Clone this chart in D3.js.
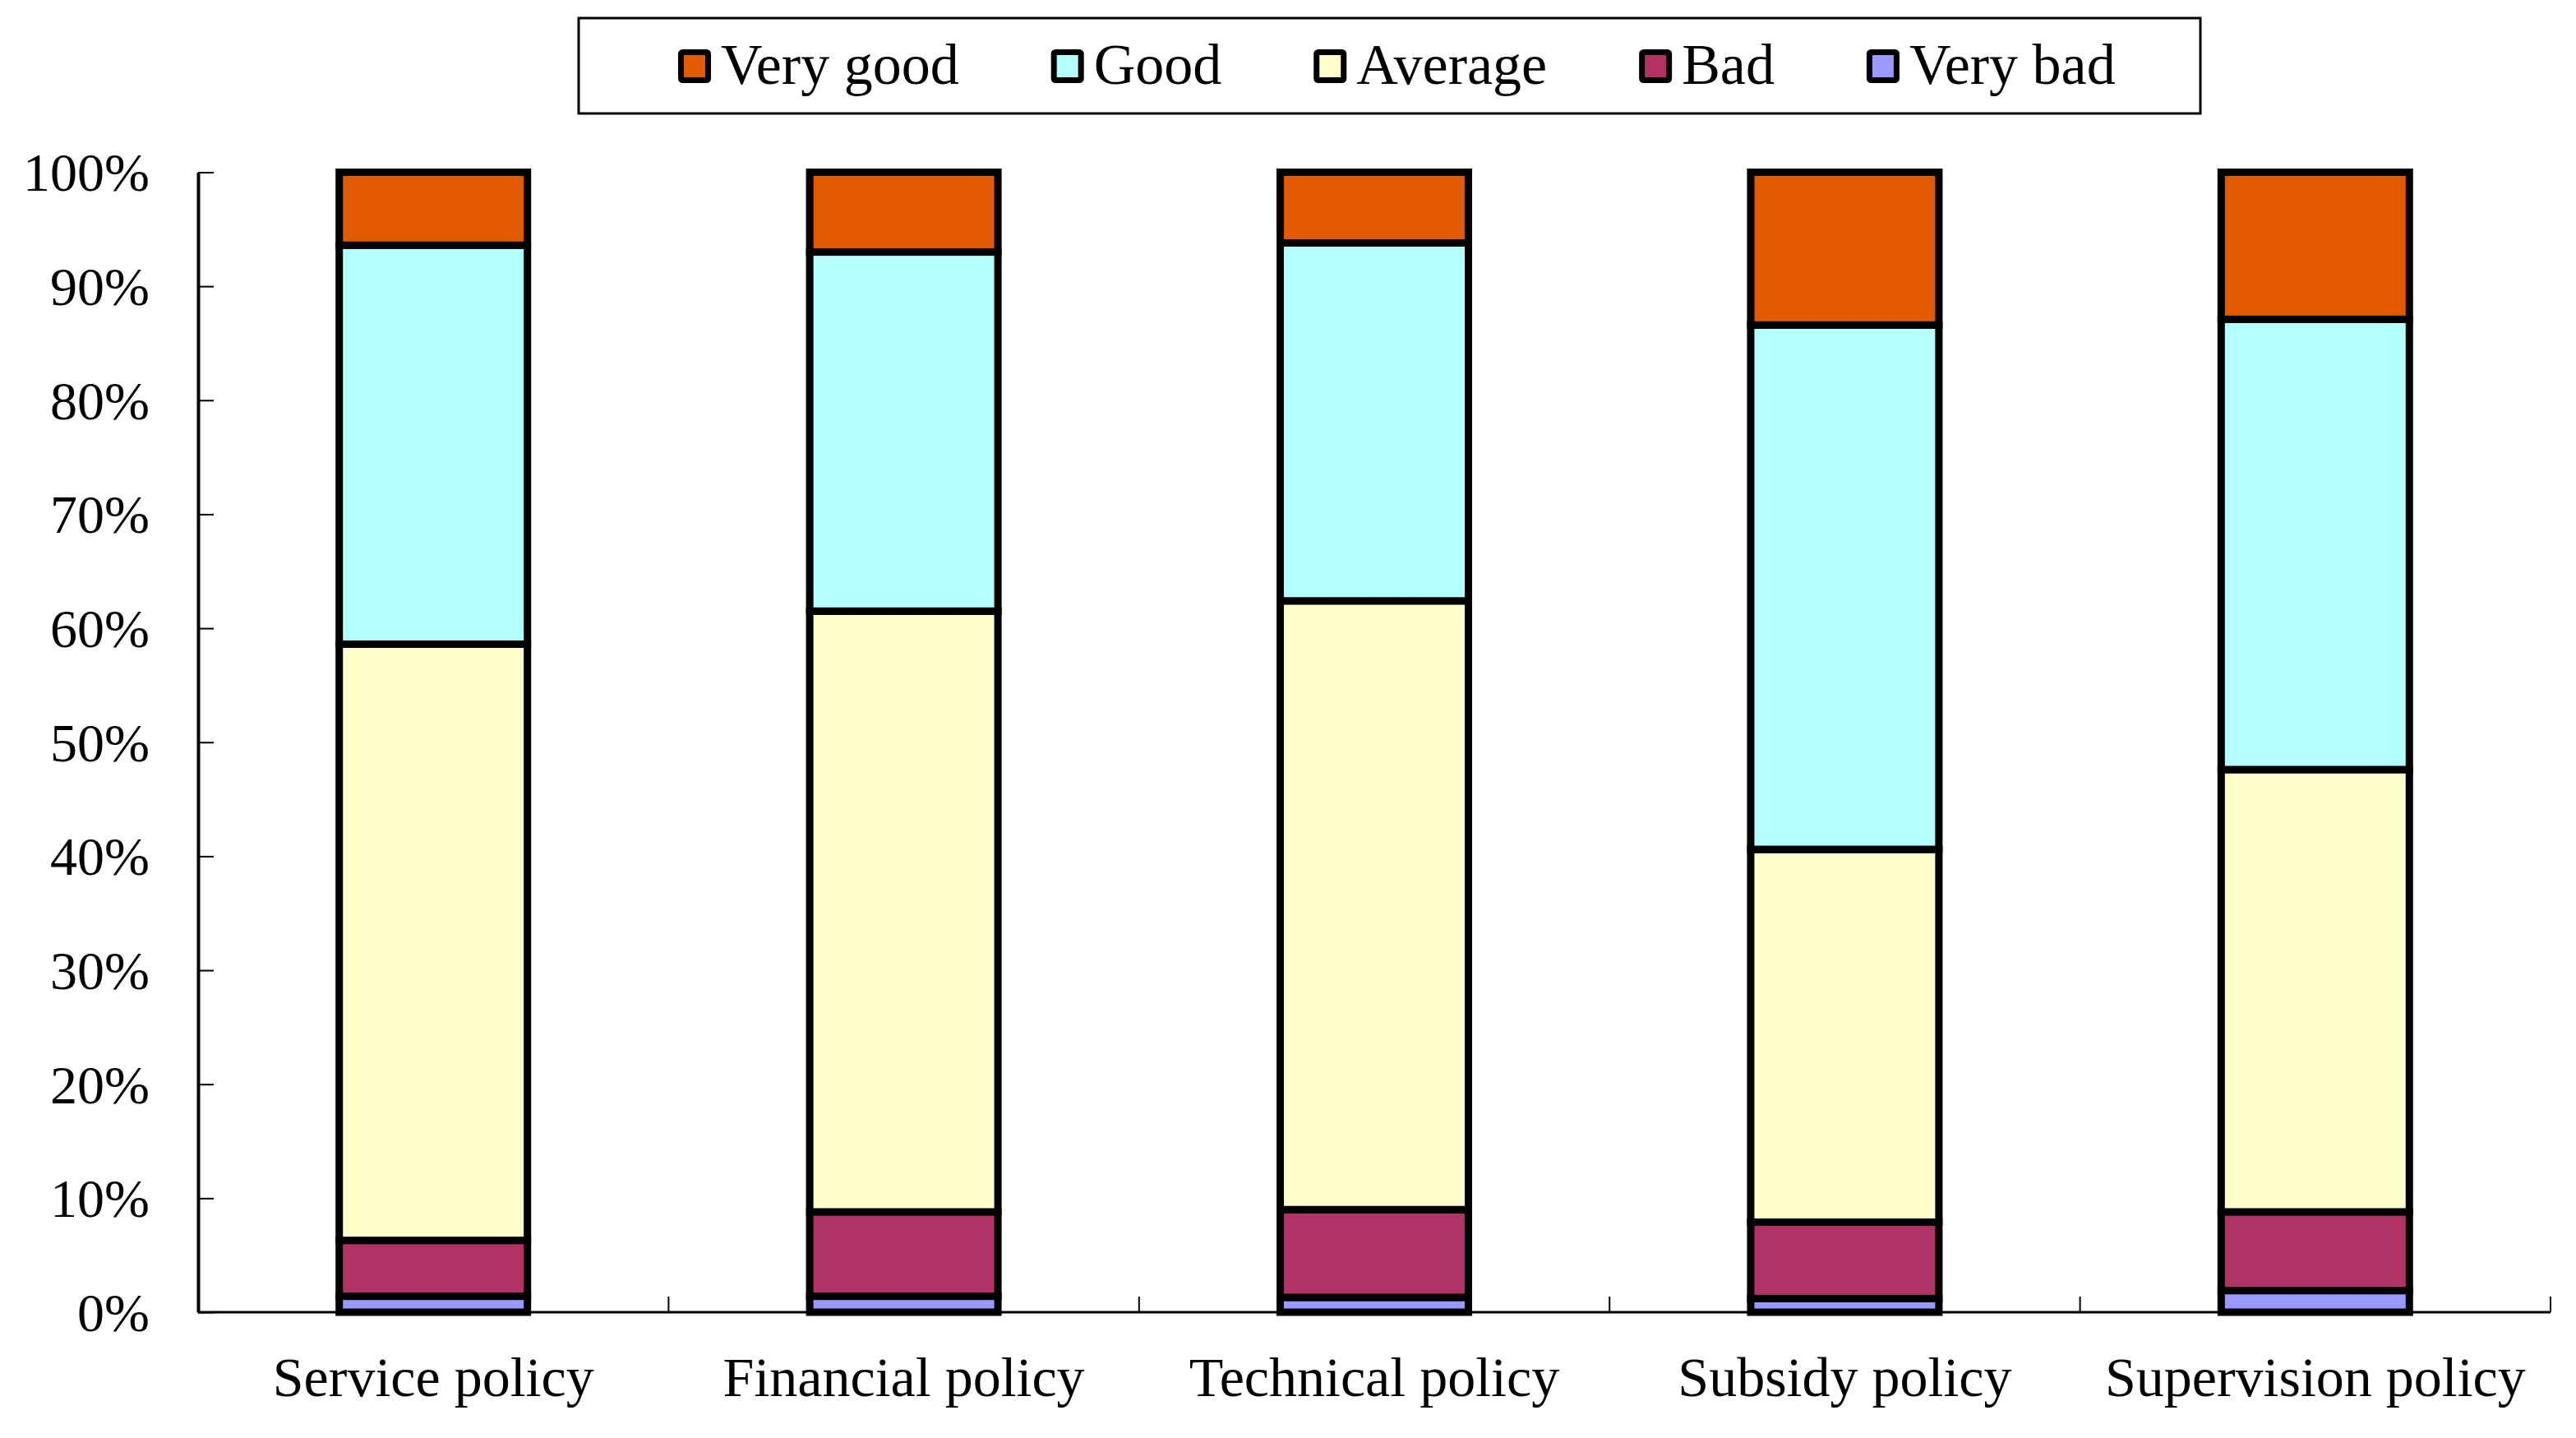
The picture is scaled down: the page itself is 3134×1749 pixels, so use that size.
<!DOCTYPE html>
<html>
<head>
<meta charset="utf-8">
<script src="https://cdn.jsdelivr.net/npm/d3@7"></script>
<style>
  body { margin: 0; background: #fff; }
  text { font-family: "Liberation Serif", "Times New Roman", serif; fill: #000; }
</style>
</head>
<body>
<svg id="chart" width="3134" height="1749"></svg>
<script>
// categories and ratings (bottom of the stack first)
var categories = ['Service policy', 'Financial policy', 'Technical policy', 'Subsidy policy', 'Supervision policy'];
var ratings = ['Very bad', 'Bad', 'Average', 'Good', 'Very good'];
var legendOrder = ['Very good', 'Good', 'Average', 'Bad', 'Very bad'];

// shares per rating, in %, one value per category
var veryBad  = [1.4, 1.4, 1.3, 1.2, 1.9];
var bad      = [4.9, 7.4, 7.7, 6.7, 6.9];
var average  = [52.3, 52.7, 53.4, 32.7, 38.8];
var good     = [35.0, 31.5, 31.4, 46.0, 39.5];
var veryGood = [6.4, 7.0, 6.2, 13.4, 12.9];

var yTicks = [0, 10, 20, 30, 40, 50, 60, 70, 80, 90, 100];

var colors = {
    'Very good': '#E15A00',
    'Good': '#B3FFFF',
    'Average': '#FFFFCC',
    'Bad': '#B13265',
    'Very bad': '#9999FF'
};

// build rows for d3.stack
var series = {'Very bad': veryBad, 'Bad': bad, 'Average': average, 'Good': good, 'Very good': veryGood};
var rows = categories.map(function(c, i) {
    var r = {category: c};
    ratings.forEach(function(k) { r[k] = series[k][i]; });
    return r;
});

var svg = d3.select('#chart');

// plot area
var plotLeft = 241, plotRight = 3103, plotTop = 209.5, plotBottom = 1596;

var x = d3.scaleBand()
    .domain(categories)
    .range([plotLeft, plotRight])
    .paddingInner(0.6)
    .paddingOuter(0.3);

var y = d3.scaleLinear()
    .domain([0, 100])
    .range([plotBottom, plotTop]);

var step = x.step();

// x axis: labels from the band scale, ticks on category boundaries
var xAxis = svg.append('g')
    .attr('transform', 'translate(0,' + plotBottom + ')')
    .call(d3.axisBottom(x).tickSize(0).tickPadding(54));
xAxis.select('.domain').remove();
xAxis.selectAll('text')
    .attr('font-size', 68)
    .attr('font-family', '"Liberation Serif", "Times New Roman", serif');

svg.append('line')
    .attr('x1', plotLeft).attr('x2', plotRight)
    .attr('y1', plotBottom).attr('y2', plotBottom)
    .attr('stroke', '#000').attr('stroke-width', 3);

var bounds = d3.range(categories.length + 1).map(function(i) { return plotLeft + i * step; });
svg.append('g').selectAll('line')
    .data(bounds)
    .join('line')
    .attr('x1', function(d) { return d; })
    .attr('x2', function(d) { return d; })
    .attr('y1', plotBottom)
    .attr('y2', plotBottom - 19)
    .attr('stroke', '#000')
    .attr('stroke-width', 2);

// y axis, ticks pointing inwards
var yAxis = svg.append('g')
    .attr('transform', 'translate(' + plotLeft + ',0)')
    .call(d3.axisLeft(y)
        .tickValues(yTicks)
        .tickFormat(function(d) { return d + '%'; })
        .tickSizeInner(-19)
        .tickSizeOuter(0)
        .tickPadding(59));
yAxis.select('.domain').attr('stroke-width', 4);
yAxis.selectAll('.tick line').attr('stroke-width', 2);
yAxis.selectAll('text')
    .attr('font-size', 66)
    .attr('dy', '0.34em')
    .attr('font-family', '"Liberation Serif", "Times New Roman", serif');

// stacked bars
var stacked = d3.stack().keys(ratings)(rows);

svg.append('g').selectAll('g')
    .data(stacked)
    .join('g')
    .attr('fill', function(d) { return colors[d.key]; })
    .selectAll('rect')
    .data(function(d) { return d; })
    .join('rect')
    .attr('x', function(d) { return x(d.data.category); })
    .attr('width', x.bandwidth())
    .attr('y', function(d) { return y(d[1]); })
    .attr('height', function(d) { return y(d[0]) - y(d[1]); })
    .attr('stroke', '#000')
    .attr('stroke-width', 9);

// legend
var legend = svg.append('g');
legend.append('rect')
    .attr('x', 704).attr('y', 22)
    .attr('width', 1973).attr('height', 116)
    .attr('fill', '#fff')
    .attr('stroke', '#000')
    .attr('stroke-width', 3);

var lx = 825;
legendOrder.forEach(function(k) {
    var item = legend.append('g');
    item.append('rect')
        .attr('x', lx + 3.5).attr('y', 63.5)
        .attr('width', 33).attr('height', 34)
        .attr('fill', colors[k])
        .attr('stroke', '#000')
        .attr('stroke-width', 7)
        .attr('rx', 2);
    var t = item.append('text')
        .attr('x', lx + 52)
        .attr('y', 102)
        .attr('font-size', 70)
        .text(k);
    lx += 52 + t.node().getComputedTextLength() + 112;
});
</script>
</body>
</html>
